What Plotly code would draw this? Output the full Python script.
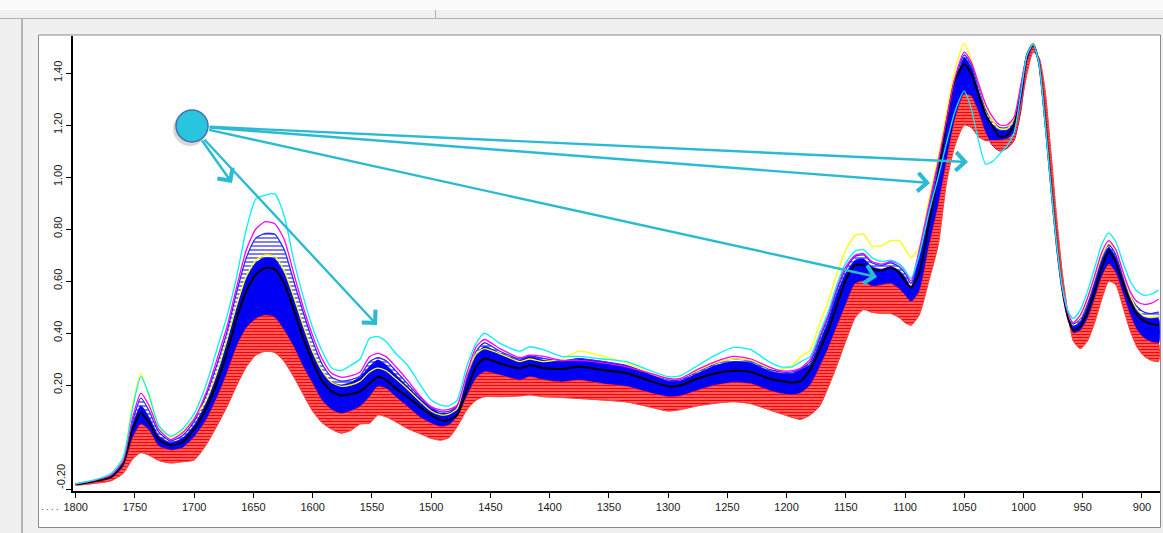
import plotly.graph_objects as go

# ---------------- data (wavenumber grid, cm-1) ----------------
W = [1800, 1785, 1770, 1760, 1752, 1745, 1738, 1730, 1720, 1710, 1700,
     1690, 1680, 1672, 1664, 1656, 1648, 1640, 1632, 1624, 1616, 1608, 1600, 1592, 1584, 1576, 1568, 1560,
     1552, 1545, 1538, 1530, 1520, 1510, 1500, 1492, 1485, 1478, 1470, 1462, 1455,
     1442, 1425, 1417, 1405, 1390, 1375, 1355, 1335, 1315, 1300, 1290, 1275, 1260, 1245, 1230, 1215, 1205, 1195, 1188,
     1180, 1172, 1165, 1158, 1150, 1142, 1135, 1128, 1120, 1112, 1105, 1100, 1095,
     1088, 1080, 1072, 1065, 1058, 1050, 1044, 1038, 1032, 1026, 1020, 1014, 1008, 1002,
     997, 992, 987, 982, 977, 972, 967, 962, 958, 952, 946, 940, 934, 928, 922, 916, 910, 904, 898, 892, 886]

cyan = [-0.180, -0.166, -0.140, -0.080, 0.110, 0.232, 0.160, 0.045, 0.003, 0.030, 0.090,
        0.200, 0.350, 0.470, 0.620, 0.800, 0.915, 0.930, 0.935, 0.850, 0.680, 0.540, 0.420, 0.330, 0.265, 0.255, 0.275, 0.300,
        0.380, 0.386, 0.367, 0.322, 0.277, 0.206, 0.142, 0.123, 0.120, 0.142, 0.271, 0.360, 0.399,
        0.360, 0.330, 0.347, 0.335, 0.310, 0.310, 0.300, 0.290, 0.255, 0.232, 0.235, 0.275, 0.315, 0.345, 0.335, 0.290, 0.270, 0.270, 0.290,
        0.310, 0.400, 0.480, 0.580, 0.670, 0.715, 0.720, 0.690, 0.675, 0.680, 0.665, 0.640, 0.610,
        0.700, 0.860, 1.000, 1.130, 1.250, 1.330, 1.260, 1.140, 1.050, 1.060, 1.090, 1.120, 1.170, 1.330,
        1.470, 1.510, 1.440, 1.220, 0.970, 0.740, 0.570, 0.480, 0.455, 0.490, 0.560, 0.650, 0.740, 0.785, 0.750, 0.670, 0.600, 0.560, 0.545, 0.550, 0.565]

magenta = [-0.180, -0.168, -0.146, -0.092, 0.075, 0.169, 0.120, 0.030, -0.010, 0.015, 0.070,
           0.170, 0.310, 0.430, 0.580, 0.720, 0.800, 0.828, 0.820, 0.760, 0.630, 0.500, 0.390, 0.300, 0.245, 0.230, 0.235, 0.250,
           0.309, 0.322, 0.309, 0.271, 0.219, 0.161, 0.117, 0.104, 0.106, 0.123, 0.244, 0.347, 0.375,
           0.340, 0.305, 0.315, 0.310, 0.295, 0.295, 0.285, 0.270, 0.245, 0.225, 0.225, 0.260, 0.290, 0.310, 0.300, 0.270, 0.255, 0.255, 0.265,
           0.300, 0.390, 0.470, 0.570, 0.655, 0.700, 0.705, 0.675, 0.665, 0.675, 0.665, 0.640, 0.600,
           0.720, 0.890, 1.060, 1.220, 1.380, 1.480, 1.440, 1.360, 1.280, 1.230, 1.200, 1.200, 1.230, 1.360,
           1.470, 1.510, 1.440, 1.220, 0.970, 0.740, 0.565, 0.470, 0.440, 0.470, 0.535, 0.620, 0.710, 0.755, 0.720, 0.635, 0.560, 0.520, 0.510, 0.515, 0.530]

yellow = [-0.180, -0.166, -0.140, -0.078, 0.125, 0.245, 0.150, 0.040, 0.000, 0.020, 0.075,
          0.140, 0.260, 0.380, 0.510, 0.620, 0.680, 0.700, 0.695, 0.640, 0.540, 0.430, 0.330, 0.255, 0.210, 0.195, 0.200, 0.215,
          0.250, 0.265, 0.255, 0.225, 0.185, 0.140, 0.100, 0.085, 0.088, 0.110, 0.240, 0.320, 0.340,
          0.320, 0.290, 0.300, 0.290, 0.300, 0.330, 0.310, 0.285, 0.245, 0.225, 0.225, 0.255, 0.285, 0.300, 0.295, 0.265, 0.260, 0.275, 0.310,
          0.334, 0.437, 0.520, 0.620, 0.720, 0.775, 0.780, 0.735, 0.735, 0.755, 0.755, 0.725, 0.690,
          0.730, 0.910, 1.078, 1.245, 1.410, 1.514, 1.450, 1.360, 1.270, 1.215, 1.185, 1.185, 1.225, 1.360,
          1.475, 1.514, 1.440, 1.240, 0.990, 0.750, 0.565, 0.465, 0.440, 0.460, 0.525, 0.610, 0.695, 0.745, 0.715, 0.630, 0.545, 0.490, 0.465, 0.460, 0.465]

blue_hi = [-0.181, -0.169, -0.148, -0.095, 0.060, 0.150, 0.100, 0.020, -0.015, 0.005, 0.060,
           0.160, 0.290, 0.410, 0.560, 0.690, 0.765, 0.783, 0.780, 0.720, 0.600, 0.480, 0.370, 0.280, 0.230, 0.215, 0.220, 0.235,
           0.290, 0.305, 0.293, 0.255, 0.205, 0.155, 0.113, 0.097, 0.099, 0.118, 0.230, 0.330, 0.362,
           0.330, 0.300, 0.312, 0.302, 0.292, 0.302, 0.290, 0.275, 0.243, 0.220, 0.220, 0.252, 0.282, 0.300, 0.292, 0.262, 0.250, 0.250, 0.262,
           0.290, 0.380, 0.460, 0.560, 0.645, 0.695, 0.700, 0.670, 0.660, 0.670, 0.655, 0.630, 0.590,
           0.710, 0.880, 1.050, 1.210, 1.370, 1.470, 1.430, 1.350, 1.260, 1.215, 1.190, 1.190, 1.220, 1.355,
           1.470, 1.510, 1.440, 1.230, 0.980, 0.745, 0.565, 0.465, 0.435, 0.455, 0.515, 0.600, 0.690, 0.740, 0.700, 0.620, 0.545, 0.500, 0.480, 0.475, 0.480]

blue_top = [-0.181, -0.170, -0.150, -0.098, 0.045, 0.120, 0.075, 0.005, -0.022, -0.005, 0.045,
            0.130, 0.250, 0.370, 0.500, 0.610, 0.670, 0.690, 0.685, 0.630, 0.530, 0.420, 0.320, 0.250, 0.210, 0.200, 0.210, 0.230,
            0.271, 0.296, 0.277, 0.239, 0.194, 0.149, 0.110, 0.091, 0.093, 0.117, 0.219, 0.315, 0.348,
            0.322, 0.296, 0.310, 0.295, 0.290, 0.300, 0.290, 0.272, 0.240, 0.215, 0.215, 0.245, 0.275, 0.290, 0.285, 0.255, 0.245, 0.245, 0.260,
            0.280, 0.365, 0.445, 0.545, 0.630, 0.680, 0.685, 0.655, 0.645, 0.655, 0.640, 0.615, 0.575,
            0.700, 0.860, 1.030, 1.190, 1.350, 1.460, 1.420, 1.330, 1.240, 1.200, 1.180, 1.180, 1.210, 1.350,
            1.465, 1.510, 1.440, 1.230, 0.980, 0.745, 0.560, 0.460, 0.425, 0.445, 0.505, 0.590, 0.680, 0.730, 0.690, 0.610, 0.535, 0.485, 0.460, 0.455, 0.455]

black = [-0.182, -0.171, -0.153, -0.103, 0.030, 0.092, 0.055, -0.010, -0.032, -0.020, 0.030,
         0.110, 0.220, 0.330, 0.460, 0.560, 0.625, 0.650, 0.645, 0.590, 0.490, 0.380, 0.290, 0.215, 0.175, 0.160, 0.165, 0.175,
         0.206, 0.232, 0.219, 0.187, 0.155, 0.117, 0.085, 0.065, 0.065, 0.085, 0.180, 0.271, 0.302,
         0.283, 0.264, 0.277, 0.265, 0.262, 0.270, 0.258, 0.245, 0.215, 0.195, 0.198, 0.225, 0.245, 0.255, 0.250, 0.225, 0.215, 0.210, 0.215,
         0.260, 0.335, 0.410, 0.500, 0.605, 0.662, 0.660, 0.645, 0.640, 0.652, 0.632, 0.600, 0.575,
         0.630, 0.820, 1.010, 1.210, 1.370, 1.435, 1.395, 1.320, 1.240, 1.194, 1.155, 1.160, 1.200, 1.330,
         1.470, 1.510, 1.440, 1.230, 0.980, 0.740, 0.560, 0.450, 0.410, 0.425, 0.480, 0.560, 0.650, 0.715, 0.670, 0.590, 0.520, 0.470, 0.445, 0.435, 0.430]

red_top = [-0.183, -0.173, -0.158, -0.115, -0.005, 0.050, 0.025, -0.035, -0.050, -0.042, 0.000,
           0.065, 0.160, 0.250, 0.350, 0.420, 0.455, 0.469, 0.460, 0.410, 0.347, 0.270, 0.205, 0.140, 0.105, 0.090, 0.100, 0.117,
           0.155, 0.194, 0.187, 0.155, 0.117, 0.078, 0.053, 0.040, 0.046, 0.078, 0.155, 0.226, 0.251,
           0.239, 0.219, 0.232, 0.220, 0.212, 0.219, 0.205, 0.195, 0.170, 0.155, 0.158, 0.180, 0.200, 0.210, 0.205, 0.180, 0.168, 0.162, 0.170,
           0.200, 0.270, 0.340, 0.420, 0.510, 0.590, 0.600, 0.580, 0.585, 0.590, 0.570, 0.545, 0.520,
           0.560, 0.730, 0.890, 1.060, 1.220, 1.320, 1.310, 1.250, 1.170, 1.120, 1.100, 1.110, 1.140, 1.260,
           1.440, 1.500, 1.450, 1.280, 1.020, 0.780, 0.580, 0.450, 0.400, 0.410, 0.455, 0.530, 0.615, 0.665, 0.630, 0.550, 0.470, 0.410, 0.380, 0.365, 0.360]

red_bot = [-0.186, -0.179, -0.168, -0.140, -0.085, -0.060, -0.070, -0.090, -0.100, -0.095, -0.088,
           -0.030, 0.050, 0.120, 0.200, 0.270, 0.315, 0.330, 0.325, 0.290, 0.232, 0.165, 0.100, 0.055, 0.030, 0.015, 0.025, 0.050,
           0.053, 0.085, 0.078, 0.059, 0.033, 0.014, -0.005, -0.012, -0.002, 0.040, 0.104, 0.142, 0.155,
           0.155, 0.158, 0.162, 0.155, 0.152, 0.148, 0.142, 0.135, 0.115, 0.100, 0.105, 0.120, 0.130, 0.136, 0.128, 0.105, 0.090, 0.075, 0.068,
           0.085, 0.120, 0.190, 0.270, 0.370, 0.460, 0.490, 0.480, 0.475, 0.475, 0.460, 0.440, 0.430,
           0.470, 0.600, 0.740, 0.980, 1.120, 1.200, 1.190, 1.155, 1.140, 1.140, 1.140, 1.145, 1.170, 1.280,
           1.400, 1.480, 1.460, 1.340, 1.100, 0.840, 0.620, 0.460, 0.370, 0.340, 0.370, 0.440, 0.530, 0.600, 0.585, 0.500, 0.410, 0.345, 0.310, 0.295, 0.290]

for arr in (cyan, magenta, yellow, blue_hi, blue_top, black, red_top, red_bot):
    assert len(arr) == len(W), len(arr)

x_ticks = list(range(1800, 899, -50))
y_ticks = [-0.2, 0.2, 0.4, 0.6, 0.8, 1.0, 1.2, 1.4]
y_text = ["", "0.20", "0.40", "0.60", "0.80", "1.00", "1.20", "1.40"]

# ---------------- geometry ----------------
W_PX, H_PX = 1163, 533
L, R, T, B = 73, 3, 36, 42
X_RANGE = [1802.3, 884.8]
Y_RANGE = [-0.2077, 1.5423]
PW, PH = W_PX - L - R, H_PX - T - B


def px(x):
    return (x - L) / PW


def py(y):
    return (H_PX - B - y) / PH


def dx(x):
    return X_RANGE[0] + (x - L) / PW * (X_RANGE[1] - X_RANGE[0])


def dy(y):
    return Y_RANGE[0] + (H_PX - B - y) / PH * (Y_RANGE[1] - Y_RANGE[0])


SM = 0.6
fig = go.Figure()


def band(top, bot, color, pattern=None, edge=None):
    kw = {}
    if pattern:
        kw["fillpattern"] = pattern
    fig.add_trace(go.Scatter(
        x=W + W[::-1], y=top + bot[::-1], mode="lines", fill="toself",
        fillcolor=color, line=dict(color=edge or color, width=0.6, shape="spline", smoothing=SM),
        hoverinfo="skip", showlegend=False, **kw))


def line(vals, color, width):
    fig.add_trace(go.Scatter(
        x=W, y=vals, mode="lines",
        line=dict(color=color, width=width, shape="spline", smoothing=SM),
        hoverinfo="skip", showlegend=False))


band(blue_hi, blue_top, "rgb(220,220,255)",
     pattern=dict(shape="-", fgcolor="rgb(40,40,255)", bgcolor="white",
                  size=4, solidity=0.3, fillmode="replace"),
     edge="rgba(40,40,255,0.6)")
band(blue_top, red_top, "rgb(0,0,245)")
band(red_top, red_bot, "rgb(255,120,120)",
     pattern=dict(shape="-", fgcolor="rgb(255,0,0)", bgcolor="rgb(255,185,185)",
                  size=3, solidity=0.68, fillmode="replace"),
     edge="rgb(255,0,0)")
line(red_bot, "rgb(255,70,70)", 1)
line(blue_hi, "rgb(40,40,255)", 1.2)
line(yellow, "rgb(255,255,0)", 1.3)
line(black, "black", 2)
line(magenta, "rgb(255,0,255)", 1.3)
line(cyan, "rgb(0,240,255)", 1.3)

# ---------------- window chrome ----------------
shapes = [
    dict(type="rect", xref="paper", yref="paper", x0=px(0), x1=px(W_PX), y0=py(0), y1=py(10),
         fillcolor="#fbfbfb", line=dict(width=0), layer="below"),
    dict(type="line", xref="paper", yref="paper", x0=px(0), x1=px(W_PX), y0=py(18.5), y1=py(18.5),
         line=dict(color="#b0b0b0", width=1), layer="below"),
    dict(type="line", xref="paper", yref="paper", x0=px(435.5), x1=px(435.5), y0=py(10), y1=py(18),
         line=dict(color="#b0b0b0", width=1), layer="below"),
    dict(type="line", xref="paper", yref="paper", x0=px(22), x1=px(22), y0=py(19), y1=py(H_PX),
         line=dict(color="#a0a0a0", width=1.5), layer="below"),
    dict(type="rect", xref="paper", yref="paper", x0=px(38.5), x1=px(1160.5), y0=py(35), y1=py(527.5),
         fillcolor="white", line=dict(color="#8a8a8a", width=1), layer="below"),
    # marker circle shadow + circle
    dict(type="circle", xref="x", yref="y", xsizemode="pixel", ysizemode="pixel",
         xanchor=dx(190), yanchor=dy(129), x0=-17, x1=17, y0=-17, y1=17,
         fillcolor="rgba(0,0,0,0.16)", line=dict(width=0), layer="above"),
    dict(type="circle", xref="x", yref="y", xsizemode="pixel", ysizemode="pixel",
         xanchor=dx(192), yanchor=dy(126), x0=-16, x1=16, y0=-16, y1=16,
         fillcolor="#27c6de", line=dict(color="#4a6bb3", width=1.5), layer="above"),
]

arrows = [  # (tail px, head px)
    ((201, 139), (232, 183)),
    ((203, 138), (377, 325)),
    ((208, 126.7), (968, 162)),
    ((208, 127.5), (930, 183)),
    ((207.6, 129.5), (877, 277)),
]
annotations = []
for (tx, ty), (hx, hy) in arrows:
    annotations.append(dict(
        x=dx(hx), y=dy(hy), xref="x", yref="y", ax=dx(tx), ay=dy(ty), axref="x", ayref="y",
        text="", showarrow=True, arrowhead=4, arrowsize=1.5, arrowwidth=2.4,
        arrowcolor="#2bbad3", standoff=0, startstandoff=0))

annotations.append(dict(x=px(61), y=dy(477), xref="paper", yref="y", text="-0.20", textangle=-90,
                        xanchor="center", yanchor="middle",
                        showarrow=False, font=dict(family="Liberation Sans, Arial", size=11, color="#1a1a1a")))
annotations.append(dict(x=px(50), y=py(507), xref="paper", yref="paper", text=". . . .",
                        xanchor="center", yanchor="middle",
                        showarrow=False, font=dict(family="Liberation Sans, Arial", size=9, color="#333")))

tick_font = dict(family="Liberation Sans, Arial", size=11, color="#1a1a1a")
fig.update_layout(
    width=W_PX, height=H_PX, margin=dict(l=L, r=R, t=T, b=B, pad=0),
    paper_bgcolor="#f0f0f0", plot_bgcolor="white", showlegend=False,
    shapes=shapes, annotations=annotations,
)
fig.update_xaxes(range=X_RANGE, tickvals=x_ticks, ticks="outside", ticklen=5, tickwidth=1,
                 tickcolor="black", showline=True, linecolor="black", linewidth=2,
                 showgrid=False, zeroline=False, tickfont=tick_font, fixedrange=True)
fig.update_yaxes(range=Y_RANGE, tickvals=y_ticks, ticktext=y_text, tickangle=-90, ticks="outside",
                 ticklen=5, tickwidth=1, tickcolor="black", showline=True, linecolor="black",
                 linewidth=2, showgrid=False, zeroline=False, tickfont=tick_font, fixedrange=True)

fig.write_html("out.html", config={"displayModeBar": False})
